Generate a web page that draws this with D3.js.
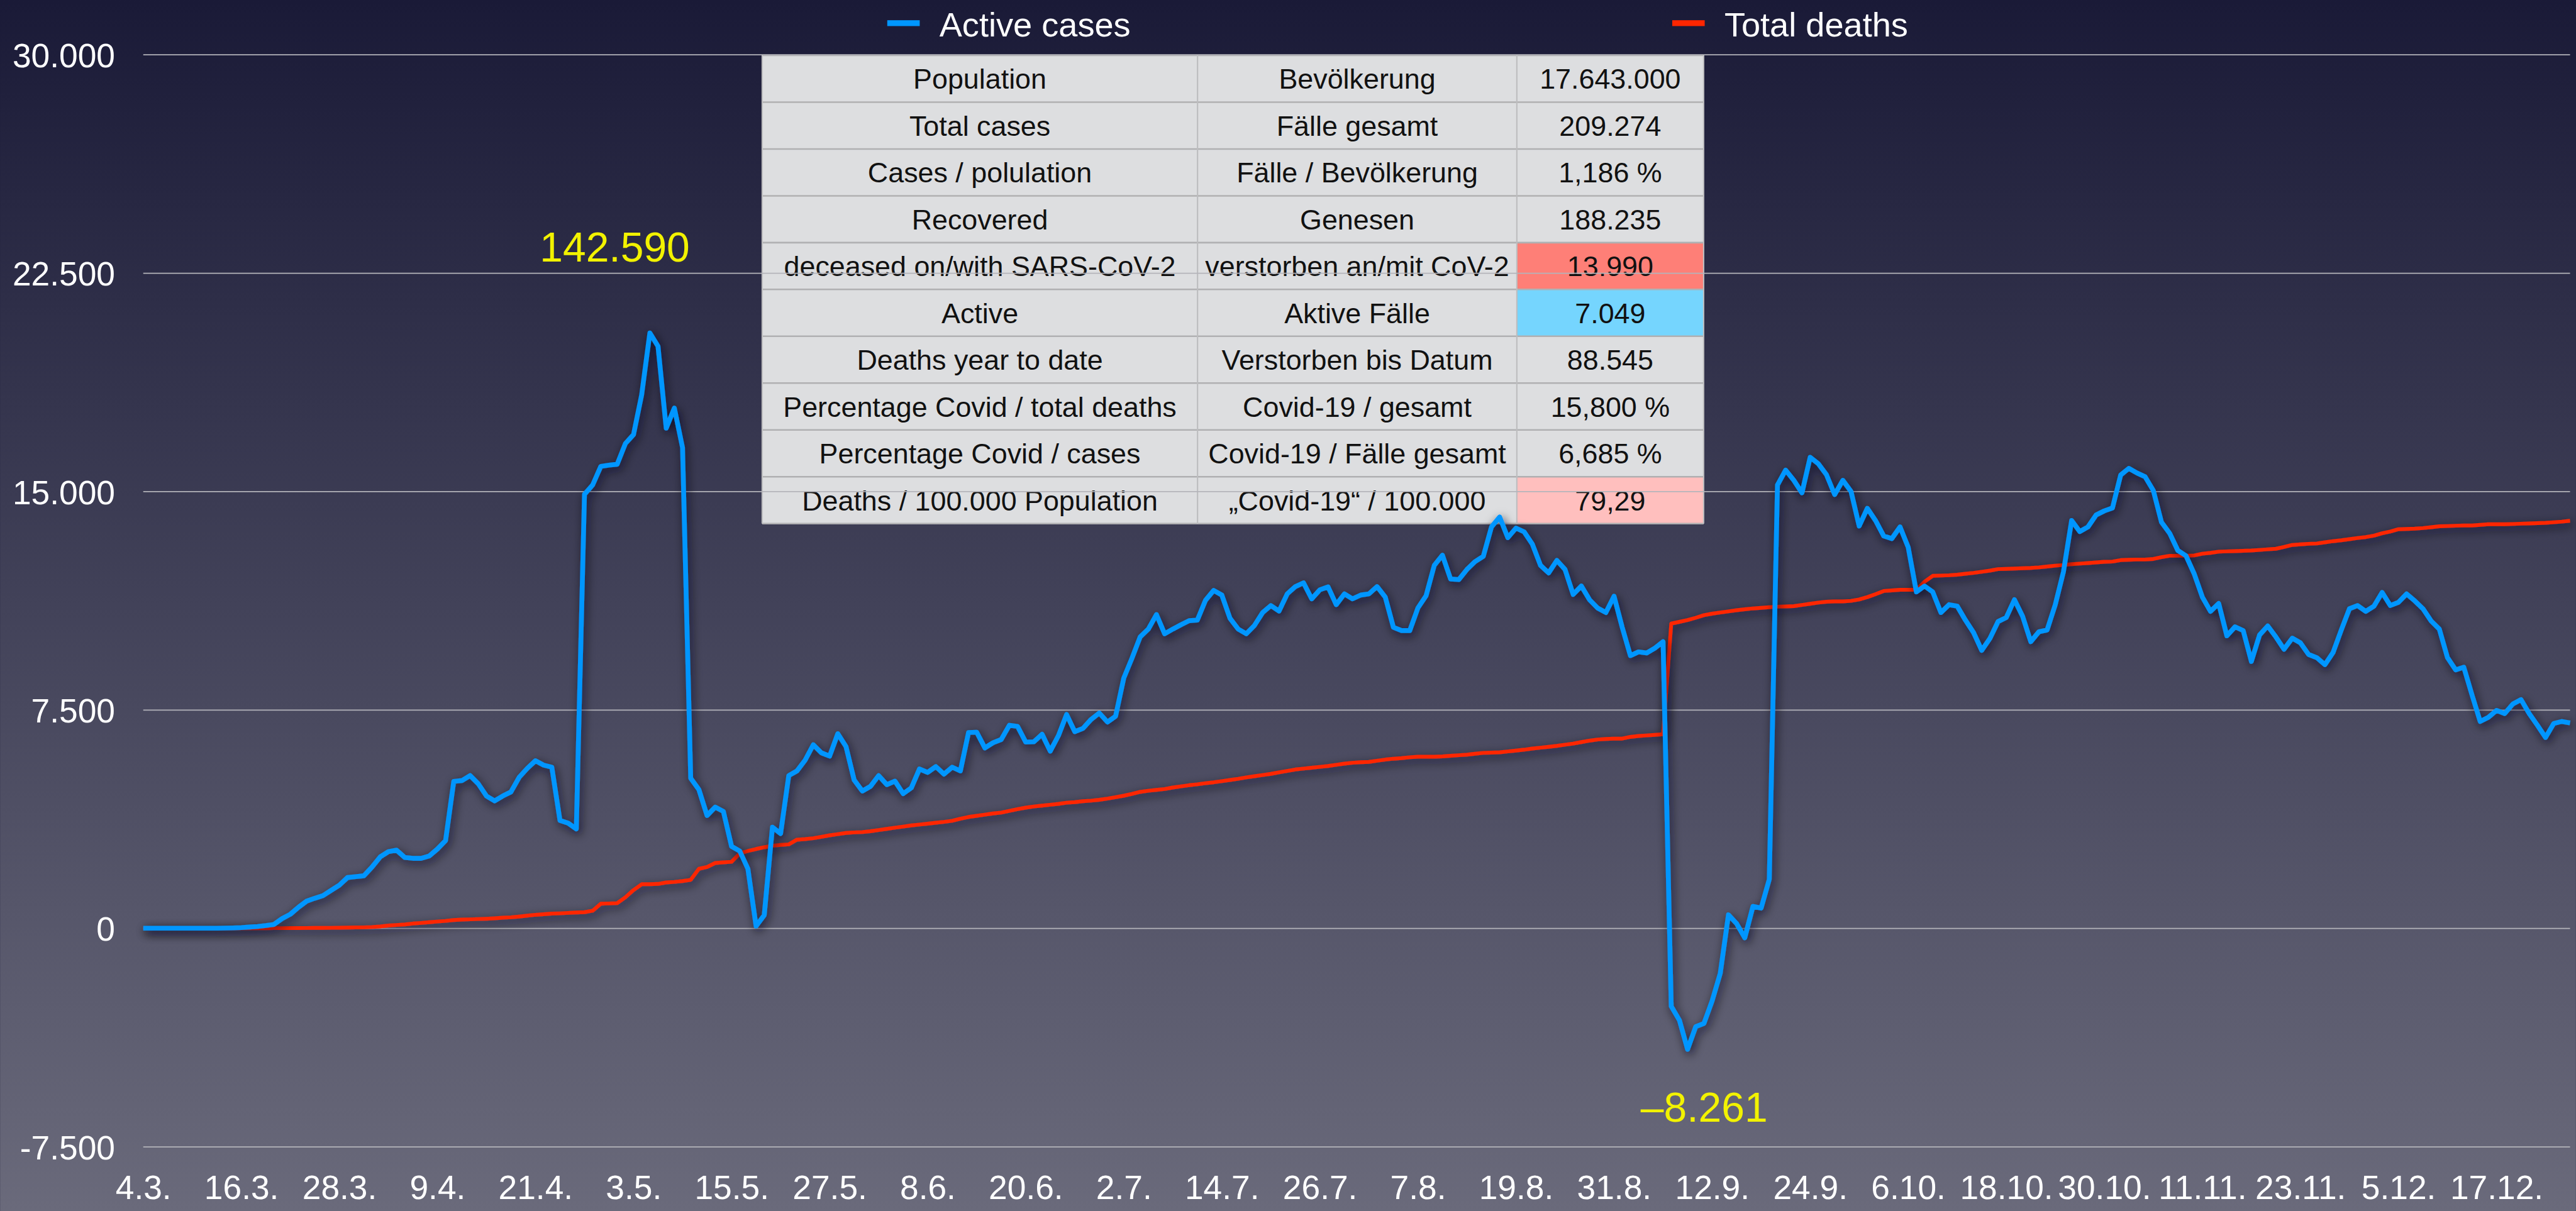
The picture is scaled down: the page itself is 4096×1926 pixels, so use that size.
<!DOCTYPE html>
<html>
<head>
<meta charset="utf-8">
<script src="https://cdn.jsdelivr.net/npm/d3@7"></script>
<style>
  html, body { margin: 0; padding: 0; background: #1a1a37; overflow: hidden; }
  svg { display: block; }
  text { font-family: "Liberation Sans", Arial, Helvetica, sans-serif; }
</style>
</head>
<body>
<svg id="chart" width="4096" height="1926" viewBox="0 0 4840 2276"></svg>
<script>
// ---- data -------------------------------------------------------------
const startDate = "2020-03-04";               // first day of the series (daily values)

const activeCases = [
  0, 0, 0, 0, 0, 0, 0, 0, 0, 0,
  5, 10, 20, 40, 60, 90, 130, 330, 480, 720,
  930, 1030, 1120, 1300, 1480, 1740, 1770, 1800, 2100, 2450,
  2630, 2680, 2430, 2400, 2400, 2480, 2720, 3010, 5040, 5070,
  5240, 4960, 4540, 4370, 4540, 4680, 5180, 5490, 5750, 5600,
  5530, 3700, 3610, 3410, 14900, 15220, 15860, 15900, 15930, 16640,
  16950, 18320, 20440, 19980, 17170, 17860, 16500, 5150, 4760, 3870,
  4160, 4010, 2810, 2650, 2040, 70, 450, 3470, 3250, 5240,
  5400, 5770, 6300, 6020, 5910, 6680, 6240, 5090, 4710, 4870,
  5240, 4930, 5050, 4620, 4820, 5470, 5350, 5550, 5290, 5530,
  5400, 6720, 6730, 6190, 6370, 6480, 6970, 6930, 6390, 6400,
  6660, 6080, 6610, 7340, 6750, 6860, 7170, 7390, 7080, 7280,
  8590, 9270, 10000, 10270, 10770, 10110, 10270, 10420, 10560, 10580,
  11260, 11600, 11440, 10640, 10270, 10110, 10400, 10840, 11080, 10890,
  11480, 11730, 11860, 11310, 11620, 11720, 11110, 11480, 11310, 11440,
  11480, 11730, 11370, 10330, 10220, 10220, 11000, 11420, 12460, 12810,
  11990, 11970, 12320, 12590, 12770, 13780, 14120, 13410, 13740, 13610,
  13190, 12460, 12200, 12630, 12320, 11460, 11750, 11280, 10990, 10840,
  11400, 10330, 9360, 9490, 9450, 9620, 9840, -2680, -3160, -4160,
  -3380, -3270, -2500, -1550, 460, 160, -330, 750, 690, 1680,
  15220, 15730, 15380, 14950, 16170, 15950, 15570, 14890, 15380, 15000,
  13810, 14420, 14000, 13470, 13380, 13780, 13080, 11550, 11750, 11550,
  10840, 11110, 11060, 10580, 10150, 9540, 9950, 10530, 10670, 11280,
  10710, 9840, 10180, 10240, 11110, 12240, 14000, 13620, 13780, 14190,
  14330, 14430, 15560, 15790, 15630, 15500, 15030, 13940, 13560, 12970,
  12790, 12170, 11370, 10880, 11150, 10040, 10350, 10220, 9160, 10070,
  10380, 10000, 9580, 9960, 9800, 9400, 9290, 9050, 9470, 10240,
  10970, 11080, 10880, 11060, 11530, 11080, 11190, 11480, 11240, 10970,
  10550, 10270, 9290, 8870, 8960, 8010, 7100, 7240, 7480, 7370,
  7700, 7850, 7370, 6970, 6550, 7030, 7100, 7049
];

const totalDeaths = [
  0, 0, 0, 0, 0, 0, 0, 0, 0, 0,
  0, 0, 0, 0, 0, 1, 2, 3, 4, 5,
  7, 9, 11, 13, 16, 20, 25, 30, 40, 60,
  90, 110, 130, 160, 180, 205, 230, 250, 280, 295,
  305, 315, 325, 340, 360, 375, 400, 430, 460, 480,
  500, 510, 525, 540, 550, 600, 840, 850, 860, 1060,
  1310, 1510, 1510, 1520, 1570, 1590, 1620, 1660, 2040, 2100,
  2240, 2260, 2280, 2570, 2650, 2720, 2780, 2830, 2860, 2880,
  3040, 3060, 3090, 3140, 3190, 3230, 3270, 3290, 3300, 3330,
  3370, 3410, 3450, 3490, 3530, 3560, 3590, 3620, 3650, 3690,
  3760, 3820, 3860, 3900, 3940, 3970, 4030, 4090, 4140, 4180,
  4210, 4240, 4270, 4310, 4330, 4360, 4380, 4410, 4450, 4500,
  4550, 4610, 4680, 4720, 4750, 4780, 4830, 4870, 4910, 4940,
  4980, 5010, 5050, 5090, 5130, 5180, 5220, 5260, 5300, 5350,
  5400, 5450, 5480, 5510, 5540, 5570, 5610, 5650, 5680, 5700,
  5710, 5750, 5790, 5820, 5840, 5870, 5890, 5890, 5890, 5900,
  5920, 5940, 5960, 5990, 6020, 6030, 6040, 6070, 6100, 6130,
  6170, 6200, 6230, 6260, 6300, 6340, 6390, 6440, 6480, 6500,
  6510, 6510, 6570, 6600, 6620, 6640, 6660, 10460, 10520, 10580,
  10660, 10750, 10800, 10840, 10880, 10920, 10950, 10980, 11000, 11020,
  11040, 11050, 11060, 11100, 11140, 11180, 11210, 11220, 11220, 11240,
  11290, 11370, 11470, 11580, 11600, 11620, 11620, 11620, 11900, 12100,
  12110, 12120, 12140, 12170, 12200, 12240, 12280, 12330, 12340, 12350,
  12360, 12370, 12390, 12420, 12450, 12470, 12500, 12520, 12540, 12560,
  12580, 12590, 12640, 12650, 12660, 12660, 12680, 12740, 12790, 12790,
  12790, 12800, 12860, 12890, 12930, 12940, 12950, 12960, 12970, 12990,
  13010, 13030, 13090, 13160, 13180, 13200, 13210, 13250, 13290, 13320,
  13360, 13400, 13430, 13480, 13560, 13620, 13700, 13710, 13720, 13740,
  13770, 13800, 13810, 13820, 13830, 13830, 13850, 13870, 13870, 13870,
  13880, 13890, 13900, 13910, 13920, 13940, 13960, 13990
];

const seriesNames = ["Active cases", "Total deaths"];
const yTickValues = [-7500, 0, 7500, 15000, 22500, 30000];
const xTickLabels = ["4.3.", "16.3.", "28.3.", "9.4.", "21.4.", "3.5.", "15.5.", "27.5.",
  "8.6.", "20.6.", "2.7.", "14.7.", "26.7.", "7.8.", "19.8.", "31.8.", "12.9.", "24.9.",
  "6.10.", "18.10.", "30.10.", "11.11.", "23.11.", "5.12.", "17.12."];

const tableLabelsEn = ["Population", "Total cases", "Cases / polulation", "Recovered",
  "deceased on/with SARS-CoV-2", "Active", "Deaths year to date",
  "Percentage Covid / total deaths", "Percentage Covid / cases", "Deaths / 100.000 Population"];
const tableLabelsDe = ["Bevölkerung", "Fälle gesamt", "Fälle / Bevölkerung", "Genesen",
  "verstorben an/mit CoV-2", "Aktive Fälle", "Verstorben bis Datum",
  "Covid-19 / gesamt", "Covid-19 / Fälle gesamt", "„Covid-19“ / 100.000"];
const tableValues = ["17.643.000", "209.274", "1,186 %", "188.235", "13.990", "7.049",
  "88.545", "15,800 %", "6,685 %", "79,29"];

const annotationTexts = ["142.590", "–8.261"];

// ---- layout & style -------------------------------------------------
const W = 4840, H = 2276;
const plot = { left: 269, right: 4829, top: 102.5, bottom: 2155 };
const colors = { active: "#0096ff", deaths: "#ff2600", grid: "#b4b4ba", text: "#ffffff", note: "#f2f200" };
const cellFill = { 4: "#fe7f77", 5: "#75d5fe", 9: "#ffbfbe" };

const svg = d3.select("#chart");
const defs = svg.append("defs");

const bg = defs.append("linearGradient").attr("id", "bgGrad")
  .attr("x1", 0).attr("y1", 0).attr("x2", 0).attr("y2", 1);
bg.append("stop").attr("offset", "0%").attr("stop-color", "#1a1a37");
bg.append("stop").attr("offset", "100%").attr("stop-color", "#6a6a7b");

const sh = defs.append("filter").attr("id", "lineShadow")
  .attr("x", "-5%").attr("y", "-10%").attr("width", "110%").attr("height", "125%");
sh.append("feGaussianBlur").attr("in", "SourceAlpha").attr("stdDeviation", 9).attr("result", "blur");
sh.append("feOffset").attr("in", "blur").attr("dx", 3).attr("dy", 6).attr("result", "off");
sh.append("feFlood").attr("flood-color", "#0a0a1c").attr("flood-opacity", 0.75).attr("result", "col");
sh.append("feComposite").attr("in", "col").attr("in2", "off").attr("operator", "in").attr("result", "shadow");
const merge = sh.append("feMerge");
merge.append("feMergeNode").attr("in", "shadow");
merge.append("feMergeNode").attr("in", "SourceGraphic");

svg.append("rect").attr("width", W).attr("height", H).attr("fill", "url(#bgGrad)");

// ---- scales ---------------------------------------------------------
const t0 = d3.utcParse("%Y-%m-%d")(startDate);
const dayDate = i => d3.utcDay.offset(t0, i);
const nDays = activeCases.length;

const x = d3.scaleUtc().domain([t0, dayDate(nDays - 1)]).range([plot.left, plot.right]);
const y = d3.scaleLinear().domain([-7500, 30000]).range([plot.bottom, plot.top]);

const de = d3.formatLocale({ decimal: ",", thousands: ".", grouping: [3], currency: ["", " €"], minus: "-" });
const fmt = de.format(",d");
const parseTick = d3.utcParse("%d.%m.%Y");
const xTickDates = xTickLabels.map(s => parseTick(s + "2020"));

// ---- info table (sits under the grid and the lines) -------------------
const table = { left: 1432, top: 104, rowH: 88, cols: [818, 600, 351] };
const colX = [table.left, table.left + table.cols[0], table.left + table.cols[0] + table.cols[1]];
const tableW = d3.sum(table.cols);
const rows = tableLabelsEn.map((en, i) => [en, tableLabelsDe[i], tableValues[i]]);

const tg = svg.append("g").attr("class", "info-table");
tg.append("rect").attr("x", table.left).attr("y", table.top)
  .attr("width", tableW).attr("height", table.rowH * rows.length).attr("fill", "#dddee0");
const rowG = tg.selectAll("g.row").data(rows).join("g").attr("class", "row")
  .attr("transform", (d, i) => `translate(0,${table.top + i * table.rowH})`);
rowG.each(function (r, i) {
  const g = d3.select(this);
  if (cellFill[i]) {
    g.append("rect").attr("x", colX[2]).attr("y", 0)
      .attr("width", table.cols[2]).attr("height", table.rowH).attr("fill", cellFill[i]);
  }
  g.selectAll("text").data(r).join("text")
    .attr("x", (d, j) => colX[j] + table.cols[j] / 2)
    .attr("y", table.rowH / 2)
    .attr("dy", "0.36em")
    .attr("text-anchor", "middle")
    .attr("font-size", 53)
    .attr("fill", "#111")
    .text(d => d);
});
// cell borders
d3.range(rows.length + 1).forEach(i => {
  tg.append("line").attr("x1", table.left).attr("x2", table.left + tableW)
    .attr("y1", table.top + i * table.rowH).attr("y2", table.top + i * table.rowH)
    .attr("stroke", "#b0b0b2").attr("stroke-width", 3);
});
[colX[0], colX[1], colX[2], table.left + tableW].forEach(cx => {
  tg.append("line").attr("x1", cx).attr("x2", cx)
    .attr("y1", table.top).attr("y2", table.top + rows.length * table.rowH)
    .attr("stroke", "#bdbdbf").attr("stroke-width", 2.5);
});

// ---- axes -------------------------------------------------------------
const yAxis = svg.append("g").attr("class", "y-axis")
  .attr("transform", `translate(${plot.left},0)`)
  .call(d3.axisLeft(y).tickValues(yTickValues).tickFormat(fmt)
    .tickSize(-(plot.right - plot.left)).tickPadding(53));
yAxis.select(".domain").remove();
yAxis.selectAll(".tick line").attr("stroke", colors.grid).attr("stroke-width", 2);
yAxis.selectAll(".tick text").attr("fill", colors.text).attr("font-size", 63)
  .attr("dy", "0.37em").attr("font-family", null);

const xAxis = svg.append("g").attr("class", "x-axis")
  .attr("transform", `translate(0,2253)`)
  .call(d3.axisBottom(x).tickValues(xTickDates).tickFormat((d, i) => xTickLabels[i])
    .tickSize(0).tickPadding(0));
xAxis.select(".domain").remove();
xAxis.selectAll(".tick text").attr("fill", colors.text).attr("font-size", 63)
  .attr("y", 0).attr("dy", 0).attr("font-family", null);

// ---- series lines -----------------------------------------------------
const line = d3.line().x((d, i) => x(dayDate(i))).y(d => y(d));

svg.append("path").datum(totalDeaths)
  .attr("d", line).attr("fill", "none")
  .attr("stroke", colors.deaths).attr("stroke-width", 7)
  .attr("stroke-linejoin", "round").attr("filter", "url(#lineShadow)");

svg.append("path").datum(activeCases)
  .attr("d", line).attr("fill", "none")
  .attr("stroke", colors.active).attr("stroke-width", 9)
  .attr("stroke-linejoin", "round").attr("filter", "url(#lineShadow)");

// ---- legend -----------------------------------------------------------
const legendItems = [
  { name: seriesNames[0], color: colors.active, sx: 1667, tx: 1765 },
  { name: seriesNames[1], color: colors.deaths, sx: 3142, tx: 3240 }
];
const lg = svg.append("g").attr("class", "legend");
lg.selectAll("rect").data(legendItems).join("rect")
  .attr("x", d => d.sx).attr("y", 38).attr("width", 61).attr("height", 11)
  .attr("fill", d => d.color);
lg.selectAll("text").data(legendItems).join("text")
  .attr("x", d => d.tx).attr("y", 68)
  .attr("font-size", 64).attr("fill", colors.text)
  .text(d => d.name);

// ---- notes ------------------------------------------------------------
const notes = [
  { text: annotationTexts[0], x: 1155, y: 492 },
  { text: annotationTexts[1], x: 3202, y: 2108 }
];
svg.append("g").attr("class", "notes").selectAll("text").data(notes).join("text")
  .attr("x", d => d.x).attr("y", d => d.y)
  .attr("text-anchor", "middle").attr("font-size", 78)
  .attr("fill", colors.note)
  .text(d => d.text);
</script>
</body>
</html>
